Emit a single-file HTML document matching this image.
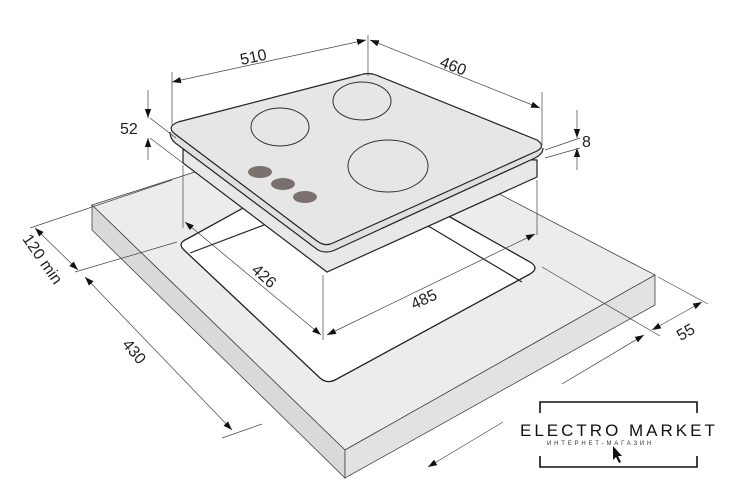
<!DOCTYPE html><html><head><style>body{margin:0;background:#fff}svg{display:block}text{font-family:"Liberation Sans",sans-serif;fill:#222}</style></head><body>
<svg width="732" height="504" viewBox="0 0 732 504">
<defs><marker id="a" viewBox="0 0 10 10" refX="10" refY="5" markerWidth="9" markerHeight="9" orient="auto-start-reverse" markerUnits="userSpaceOnUse"><path d="M0,1.5L10,5L0,8.5z" fill="#111"/></marker></defs>
<g stroke="#444" stroke-width="0.8">
<polygon points="92,205 357,120 655,275 345,450" fill="#ececec"/>
<polygon points="92,205 345,450 345,478 92,230" fill="#d9d9d9"/>
<polygon points="345,450 655,275 655,305 345,478" fill="#e2e2e2"/>
</g>
<!-- cutout -->
<path d="M330,160 L450,217 L530,262 Q540,268 530,274 L335,380 Q327,384 320,378 L184,250 Q177,243 187,239 L330,160z" fill="#fff" stroke="#222" stroke-width="1.3"/>
<path d="M190,253 L330,200 M330,200 L430,227 L522,282" stroke="#222" stroke-width="1.2" fill="none"/>
<!-- hob body -->
<polygon points="183,150 183,163 327,272 537,177 537,160" fill="#e8e8e8" stroke="#222" stroke-width="1.2"/>
<path d="M170,132 Q170,140 178,145 L318,250 Q326,254 335,250 L535,158 Q543,154 543,148" fill="#e0e0e0" stroke="#222" stroke-width="1.2"/>
<path d="M178,122 L360,75 Q368,72 376,75 L537,140 Q546,146 537,151 L333,243 Q325,247 317,241 L175,134 Q166,127 178,122z" fill="#e6e6e6" stroke="#222" stroke-width="1.2"/>
<g fill="none" stroke="#333" stroke-width="1">
<ellipse cx="280" cy="127" rx="29" ry="19"/><ellipse cx="362" cy="101" rx="29" ry="19"/><ellipse cx="388" cy="166" rx="40" ry="26"/></g>
<g fill="#7a706e"><ellipse cx="260" cy="172" rx="12" ry="6"/><ellipse cx="283" cy="184" rx="12" ry="6"/><ellipse cx="305" cy="197" rx="12" ry="6"/></g>
<g stroke="#444" stroke-width="0.7" fill="none">
<line x1="172" y1="72" x2="172" y2="125"/><line x1="368" y1="35" x2="368" y2="76"/><line x1="542" y1="92" x2="542" y2="145"/>
<line x1="172" y1="82" x2="366" y2="40" marker-start="url(#a)" marker-end="url(#a)"/>
<line x1="370" y1="40" x2="540" y2="108" marker-start="url(#a)" marker-end="url(#a)"/>
<line x1="148" y1="90" x2="148" y2="118" marker-end="url(#a)"/><line x1="148" y1="160" x2="148" y2="138" marker-end="url(#a)"/>
<line x1="150" y1="118" x2="176" y2="138"/><line x1="150" y1="138" x2="183" y2="163"/>
<line x1="577" y1="110" x2="577" y2="138" marker-end="url(#a)"/><line x1="577" y1="170" x2="577" y2="148" marker-end="url(#a)"/>
<line x1="545" y1="150" x2="580" y2="138"/><line x1="545" y1="158" x2="580" y2="148"/>
<line x1="183" y1="165" x2="183" y2="228"/><line x1="537" y1="180" x2="537" y2="235"/><line x1="323" y1="275" x2="323" y2="340"/>
<line x1="185" y1="222" x2="321" y2="335" marker-start="url(#a)" marker-end="url(#a)"/>
<line x1="327" y1="335" x2="535" y2="234" marker-start="url(#a)" marker-end="url(#a)"/>
<line x1="30" y1="228" x2="172" y2="180"/><line x1="75" y1="272" x2="177" y2="242"/>
<line x1="35" y1="228" x2="78" y2="270" marker-start="url(#a)" marker-end="url(#a)"/>
<line x1="85" y1="277" x2="232" y2="430" marker-start="url(#a)" marker-end="url(#a)"/>
<line x1="222" y1="438" x2="262" y2="424"/>
<line x1="658" y1="277" x2="708" y2="304"/><line x1="542" y1="267" x2="660" y2="336"/>
<line x1="652" y1="330" x2="702" y2="302" marker-start="url(#a)" marker-end="url(#a)"/>
<line x1="503" y1="422" x2="428" y2="467" marker-end="url(#a)"/>
<line x1="562" y1="384" x2="644" y2="335" marker-end="url(#a)"/>
</g>
<g font-size="16">
<text x="240" y="62" transform="rotate(-12 255 57)">510</text>
<text x="440" y="72" transform="rotate(21 455 66)">460</text>
<text x="120" y="134">52</text><text x="582" y="147">8</text>
<text x="251" y="282" transform="rotate(42 265 276)">426</text>
<text x="410" y="304" transform="rotate(-25 425 298)">485</text>
<text x="16" y="266" transform="rotate(55 45 258)">120 min</text>
<text x="120" y="358" transform="rotate(50 135 353)">430</text>
<text x="676" y="336" transform="rotate(-30 688 330)">55</text>
</g>
<g stroke="#111" stroke-width="1.6" fill="none">
<path d="M540,413 V402 H697 V413"/><path d="M540,456 V467 H697 V456"/></g>
<text x="520" y="436" font-size="17" letter-spacing="3" style="fill:#111">ELECTRO MARKET</text>
<text x="547" y="445" font-size="6" letter-spacing="2.8" style="fill:#333">ИНТЕРНЕТ-МАГАЗИН</text>
<path d="M613,446 L613,460 L616,457 L619,463 L621,462 L618,456 L622,456z" fill="#111"/>
</svg></body></html>
